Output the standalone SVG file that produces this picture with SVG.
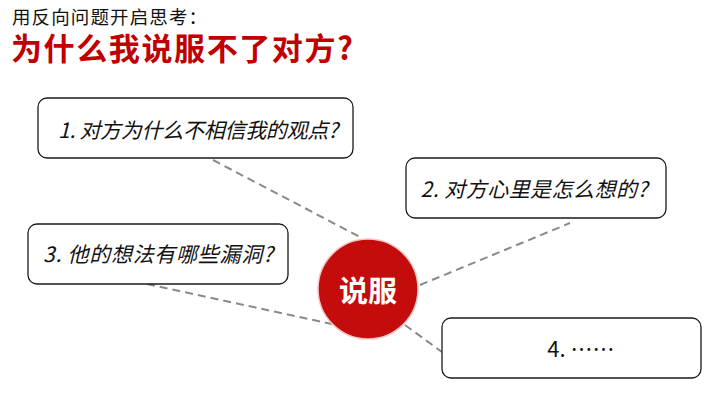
<svg xmlns="http://www.w3.org/2000/svg" width="720" height="405" viewBox="0 0 720 405">
<style>
.t{font-family:"Noto Sans CJK SC","Noto Sans",sans-serif}
.box{fill:#fff;stroke:#1a1a1a;stroke-width:1.3}
.q{font-size:21px;font-style:italic;fill:#111;text-anchor:middle;dominant-baseline:central}
.c{fill:none;stroke:#8a8a8a;stroke-width:2;stroke-dasharray:8 5}
</style>
<rect width="720" height="405" fill="#fff"/>
<text class="t" x="12" y="24" font-size="18.5" fill="#111" textLength="195">用反向问题开启思考：</text>
<text class="t" x="11" y="60" font-size="31" font-weight="bold" fill="#c00000" textLength="342">为什么我说服不了对方?</text>
<g id="connectors">
<line class="c" x1="213" y1="160" x2="360" y2="237"/>
<line class="c" x1="420" y1="285" x2="570" y2="223"/>
<line class="c" x1="147" y1="284" x2="332" y2="324"/>
<line class="c" x1="405" y1="325" x2="442" y2="352"/>
</g>
<g id="center">
<circle cx="368" cy="289" r="50" fill="#c40c0c" stroke="#f2c6c6" stroke-width="1.5"/>
<text class="t" x="368" y="289" font-size="29" font-weight="bold" fill="#fff" text-anchor="middle" dominant-baseline="central">说服</text>
</g>
<g id="q1">
<rect class="box" x="38" y="98" width="315" height="60" rx="9"/>
<text class="t q" x="198" y="129" font-size="20" textLength="280">1. 对方为什么不相信我的观点?</text>
</g>
<g id="q2">
<rect class="box" x="406" y="158" width="260" height="60" rx="9"/>
<text class="t q" x="534" y="188" font-size="21.5" textLength="227">2. 对方心里是怎么想的?</text>
</g>
<g id="q3">
<rect class="box" x="28" y="224" width="260" height="60" rx="9"/>
<text class="t q" x="158" y="253" font-size="21.5" textLength="230">3. 他的想法有哪些漏洞?</text>
</g>
<g id="q4">
<rect class="box" x="442" y="318" width="259" height="60" rx="9"/>
<text class="t" x="581" y="347" font-size="22" fill="#111" text-anchor="middle" dominant-baseline="central">4. ……</text>
</g>
</svg>
